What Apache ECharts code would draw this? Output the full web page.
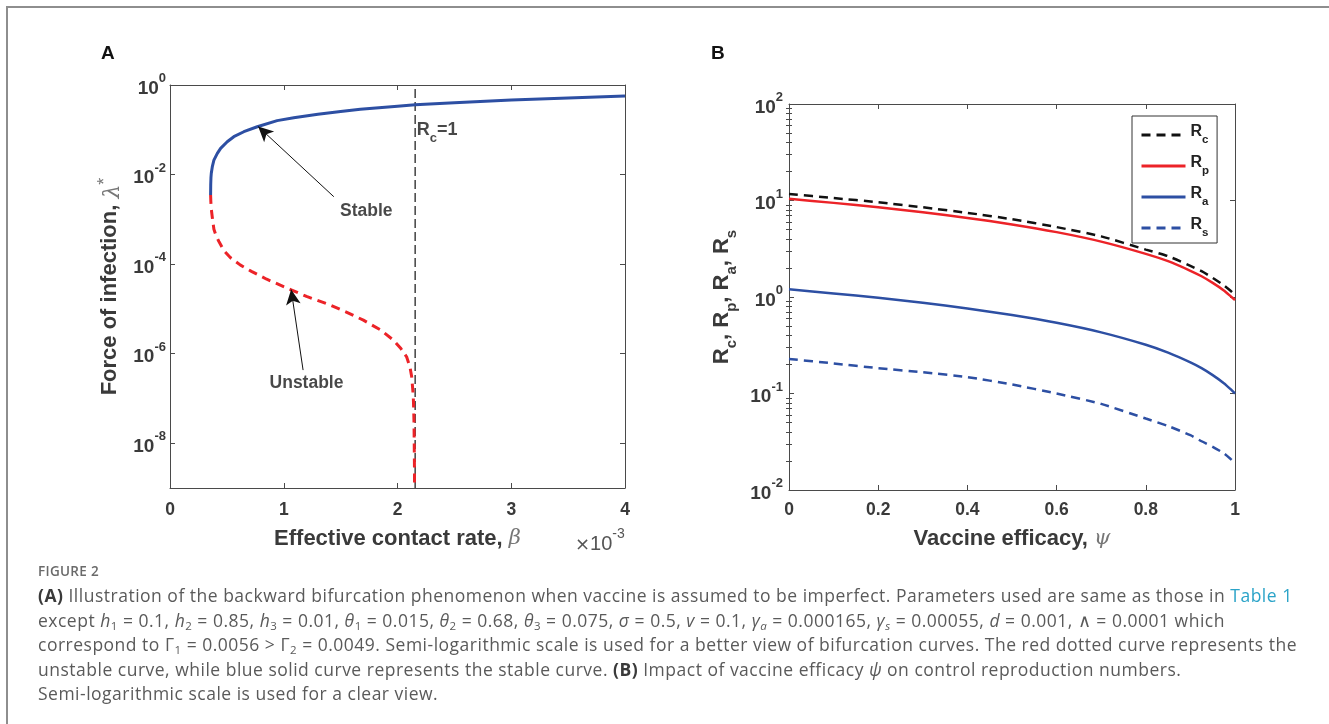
<!DOCTYPE html>
<html>
<head>
<meta charset="utf-8">
<title>Figure 2</title>
<script src="https://cdn.jsdelivr.net/npm/echarts@6/dist/echarts.min.js"></script>
<style>
  html, body { margin: 0; padding: 0; background: #fff; }
  body { width: 1329px; height: 724px; position: relative; overflow: hidden; }
  #chart { position: absolute; left: 0; top: 0; width: 1329px; height: 560px; }
  .frame { position: absolute; left: 6px; top: 6px; width: 1360px; height: 760px;
           border-top: 2px solid #8e8e8e; border-left: 2px solid #8e8e8e; }
  .fig { position: absolute; left: 38px; top: 562px; font: 600 13.5px "Open Sans", sans-serif;
         color: #6a6a6a; letter-spacing: 0.3px; }
  .cap { position: absolute; left: 38px; top: 583px; font: 400 17.5px/24.5px "Open Sans", sans-serif;
         color: #5a5a5a; letter-spacing: 0.5px; white-space: nowrap; }
  .cap b { color: #3a3a3a; font-weight: 700; }
  .cap .lnk { color: #2aa3c8; }
  .cap i { font-style: italic; }
  .cap sub { font-size: 11.5px; line-height: 0; vertical-align: -3px; }
</style>
</head>
<body>
<div id="chart"></div>
<div class="frame"></div>
<div class="fig">FIGURE 2</div>
<div class="cap">
  <div><b>(A)</b> Illustration of the backward bifurcation phenomenon when vaccine is assumed to be imperfect. Parameters used are same as those in <span class="lnk">Table 1</span></div>
  <div>except <i>h</i><sub>1</sub> = 0.1, <i>h</i><sub>2</sub> = 0.85, <i>h</i><sub>3</sub> = 0.01, <i>θ</i><sub>1</sub> = 0.015, <i>θ</i><sub>2</sub> = 0.68, <i>θ</i><sub>3</sub> = 0.075, <i>σ</i> = 0.5, <i>v</i> = 0.1, <i>γ</i><sub><i>a</i></sub> = 0.000165, <i>γ</i><sub><i>s</i></sub> = 0.00055, <i>d</i> = 0.001, ∧ = 0.0001 which</div>
  <div>correspond to Γ<sub>1</sub> = 0.0056 &gt; Γ<sub>2</sub> = 0.0049. Semi-logarithmic scale is used for a better view of bifurcation curves. The red dotted curve represents the</div>
  <div>unstable curve, while blue solid curve represents the stable curve. <b>(B)</b> Impact of vaccine efficacy <i>ψ</i> on control reproduction numbers.</div>
  <div>Semi-logarithmic scale is used for a clear view.</div>
</div>
<script>
// ---------- Panel A: bifurcation diagram (β in units of 10^-3) ----------
const betaStable = [0.357, 0.358, 0.360, 0.363, 0.372, 0.386, 0.416, 0.445, 0.503, 0.561, 0.649, 0.767,
                    0.942, 1.088, 1.30, 1.50, 1.673, 2.00, 2.155, 2.50, 3.00, 3.50, 4.00];
const lambdaStable = [0.0035, 0.0060, 0.0085, 0.0107, 0.0150, 0.0210, 0.0297, 0.0385, 0.054, 0.070, 0.0905, 0.117,
                      0.160, 0.186, 0.222, 0.255, 0.288, 0.335, 0.360, 0.400, 0.460, 0.515, 0.570];

const betaUnstable = [0.357, 0.359, 0.363, 0.372, 0.386, 0.405, 0.43, 0.474, 0.53, 0.62, 0.72, 0.85,
                      1.06, 1.20, 1.38, 1.55, 1.70, 1.85, 1.965, 2.03, 2.08, 2.11, 2.125, 2.135,
                      2.14, 2.145, 2.147, 2.149, 2.15];
const lambdaUnstable = [3.5e-3, 2.5e-3, 1.7e-3, 1.1e-3, 6.0e-4, 4.3e-4, 3.2e-4, 2.0e-4, 1.4e-4, 9.5e-5, 6.8e-5, 4.6e-5,
                        2.7e-5, 1.9e-5, 1.3e-5, 8.5e-6, 5.6e-6, 3.4e-6, 2.0e-6, 1.3e-6, 8.5e-7, 5.0e-7, 3.0e-7, 1.5e-7,
                        9e-8, 3e-8, 1e-8, 3e-9, 1e-9];

const betaThreshold = 2.155;          // R_c = 1
const lambdaRange = [1e-9, 1];
const betaTicks = [0, 1, 2, 3, 4];
const lambdaTicks = [1e-8, 1e-6, 1e-4, 1e-2, 1];

// annotation anchors [beta, lambda]
const stableText = [1.725, 1.5e-3];
const stableArrow = [[1.44, 3.2e-3], [0.775, 0.118]];
const unstableText = [1.20, 2.2e-7];
const unstableArrow = [[1.17, 4.3e-7], [1.065, 2.7e-5]];
const thresholdText = [2.17, 0.085];

// ---------- Panel B: reproduction numbers vs vaccine efficacy ----------
const psi = [0, 0.1, 0.2, 0.3, 0.4, 0.5, 0.6, 0.7, 0.8, 0.85, 0.9, 0.925, 0.95, 0.975, 0.99, 1];
const Rc = [11.7, 10.6, 9.6, 8.5, 7.45, 6.4, 5.3, 4.25, 3.1, 2.65, 2.1, 1.85, 1.58, 1.32, 1.16, 1.05];
const Rp = [10.4, 9.45, 8.5, 7.55, 6.6, 5.65, 4.7, 3.75, 2.8, 2.35, 1.87, 1.64, 1.40, 1.17, 1.02, 0.93];
const Ra = [1.20, 1.09, 0.98, 0.87, 0.76, 0.65, 0.54, 0.43, 0.32, 0.265, 0.21, 0.183, 0.155, 0.128, 0.111, 0.100];
const Rs = [0.228, 0.205, 0.183, 0.166, 0.148, 0.124, 0.100, 0.078, 0.055, 0.046, 0.037, 0.032, 0.028, 0.024, 0.021, 0.019];

const rRange = [0.01, 100];
const psiTicks = [0, 0.2, 0.4, 0.6, 0.8, 1];
const rTicks = [0.01, 0.1, 1, 10, 100];
const rMinorTicks = [0.02, 0.03, 0.04, 0.05, 0.06, 0.07, 0.08, 0.09,
                     0.2, 0.3, 0.4, 0.5, 0.6, 0.7, 0.8, 0.9,
                     2, 3, 4, 5, 6, 7, 8, 9,
                     20, 30, 40, 50, 60, 70, 80, 90];

// ---------- styling ----------
const FONT = '"Liberation Sans", Arial, Helvetica, sans-serif';
const AXIS_COLOR = '#4a4a4a';
const LABEL_COLOR = '#3a3a3a';
const BLUE = '#2D4FA3';
const RED = '#EC2328';

const zip = (xs, ys) => xs.map((x, i) => [x, ys[i]]);

const powRich = {
  b: { fontFamily: FONT, fontWeight: 'bold', fontSize: 19, color: LABEL_COLOR, lineHeight: 26, verticalAlign: 'bottom' },
  s: { fontFamily: FONT, fontWeight: 'bold', fontSize: 13, color: LABEL_COLOR, lineHeight: 11, verticalAlign: 'top' }
};
const powLabel = v => '{b|10}{s|' + Math.round(Math.log10(v)) + '}';

function frameAxis(extra) {
  return Object.assign({
    axisLine: { show: true, onZero: false, lineStyle: { color: AXIS_COLOR, width: 1 } },
    axisTick: { show: true, inside: true, length: 5, lineStyle: { color: AXIS_COLOR, width: 1 } },
    splitLine: { show: false },
    minorTick: { show: false },
    minorSplitLine: { show: false }
  }, extra);
}

const tickText = { fontFamily: FONT, fontWeight: 'bold', fontSize: 17.5, color: LABEL_COLOR };

const nameStyle = (extraRich) => ({
  fontFamily: FONT, fontWeight: 'bold', fontSize: 22, color: LABEL_COLOR,
  rich: extraRich
});
const greekRich = {
  g: { fontFamily: '"DejaVu Serif", serif', fontStyle: 'italic', fontWeight: 'normal', fontSize: 21, color: '#777' }
};

const option = {
  animation: false,
  backgroundColor: '#fff',
  grid: [
    { left: 170, top: 85, width: 455, height: 403 },
    { left: 789, top: 104, width: 446, height: 386 }
  ],
  xAxis: [
    frameAxis({
      gridIndex: 0, type: 'value', position: 'bottom', min: 0, max: 4, interval: 1,
      axisLabel: Object.assign({ show: true, margin: 13, customValues: betaTicks }, tickText),
      axisTick: { show: true, inside: true, length: 5, lineStyle: { color: AXIS_COLOR }, customValues: betaTicks },
      name: 'Effective contact rate, {g|β}', nameLocation: 'middle', nameGap: 40,
      nameTextStyle: nameStyle(greekRich)
    }),
    frameAxis({
      gridIndex: 0, type: 'value', position: 'top', min: 0, max: 4, interval: 1,
      axisLabel: { show: false },
      axisTick: { show: true, inside: true, length: 5, lineStyle: { color: AXIS_COLOR }, customValues: betaTicks }
    }),
    frameAxis({
      gridIndex: 1, type: 'value', position: 'bottom', min: 0, max: 1, interval: 0.2,
      axisLabel: Object.assign({ show: true, margin: 11, customValues: psiTicks }, tickText),
      axisTick: { show: true, inside: true, length: 5, lineStyle: { color: AXIS_COLOR }, customValues: psiTicks },
      name: 'Vaccine efficacy, {g|ψ}', nameLocation: 'middle', nameGap: 38,
      nameTextStyle: nameStyle(greekRich)
    }),
    frameAxis({
      gridIndex: 1, type: 'value', position: 'top', min: 0, max: 1, interval: 0.2,
      axisLabel: { show: false },
      axisTick: { show: true, inside: true, length: 5, lineStyle: { color: AXIS_COLOR }, customValues: psiTicks }
    })
  ],
  yAxis: [
    frameAxis({
      gridIndex: 0, type: 'log', logBase: 10, position: 'left', min: lambdaRange[0], max: lambdaRange[1],
      axisLabel: { show: true, margin: 4, customValues: lambdaTicks, formatter: powLabel, rich: powRich },
      axisTick: { show: true, inside: true, length: 5, lineStyle: { color: AXIS_COLOR }, customValues: lambdaTicks },
      name: 'Force of infection, {l|λ}{a|*}', nameLocation: 'middle', nameGap: 46,
      nameTextStyle: nameStyle({
        l: { fontFamily: '"DejaVu Serif", serif', fontStyle: 'italic', fontWeight: 'normal', fontSize: 22, color: '#777', lineHeight: 28, verticalAlign: 'bottom' },
        a: { fontFamily: FONT, fontWeight: 'normal', fontSize: 18, color: '#777', lineHeight: 13, verticalAlign: 'top' }
      })
    }),
    frameAxis({
      gridIndex: 0, type: 'log', logBase: 10, position: 'right', min: lambdaRange[0], max: lambdaRange[1],
      axisLabel: { show: false },
      axisTick: { show: true, inside: true, length: 5, lineStyle: { color: AXIS_COLOR }, customValues: lambdaTicks }
    }),
    frameAxis({
      gridIndex: 1, type: 'log', logBase: 10, position: 'left', min: rRange[0], max: rRange[1],
      axisLabel: { show: true, margin: 6, customValues: rTicks, formatter: powLabel, rich: powRich },
      axisTick: { show: true, inside: true, length: 5, lineStyle: { color: AXIS_COLOR }, customValues: rTicks },
      name: '{r|R}{s|c}{r|, R}{s|p}{r|, R}{s|a}{r|, R}{s|s}', nameLocation: 'middle', nameGap: 50,
      nameTextStyle: nameStyle({
        r: { fontFamily: FONT, fontWeight: 'bold', fontSize: 22, color: LABEL_COLOR, lineHeight: 28, verticalAlign: 'top' },
        s: { fontFamily: FONT, fontWeight: 'bold', fontSize: 15, color: LABEL_COLOR, lineHeight: 12, verticalAlign: 'bottom' }
      })
    }),
    frameAxis({
      gridIndex: 1, type: 'log', logBase: 10, position: 'right', min: rRange[0], max: rRange[1],
      axisLabel: { show: false },
      axisTick: { show: true, inside: true, length: 5, lineStyle: { color: AXIS_COLOR }, customValues: rTicks }
    }),
    frameAxis({
      gridIndex: 1, type: 'log', logBase: 10, position: 'left', offset: 0, min: rRange[0], max: rRange[1],
      axisLine: { show: false },
      axisLabel: { show: false },
      axisTick: { show: true, inside: true, length: 3, lineStyle: { color: AXIS_COLOR }, customValues: rMinorTicks }
    }),
    frameAxis({
      gridIndex: 1, type: 'log', logBase: 10, position: 'right', offset: 0, min: rRange[0], max: rRange[1],
      axisLine: { show: false },
      axisLabel: { show: false },
      axisTick: { show: true, inside: true, length: 3, lineStyle: { color: AXIS_COLOR }, customValues: rMinorTicks }
    })
  ],
  legend: {
    data: ['Rc', 'Rp', 'Ra', 'Rs'],
    orient: 'vertical', left: 1132, top: 116,
    padding: [8, 8, 4, 8], itemGap: 9, itemWidth: 44, itemHeight: 22,
    borderColor: '#333', borderWidth: 1, backgroundColor: '#fff',
    selectedMode: false,
    itemStyle: { opacity: 0 },
    lineStyle: { width: 3 },
    formatter: name => '{r|R}{s|' + name.slice(1) + '}',
    textStyle: {
      rich: {
        r: { fontFamily: FONT, fontWeight: 'bold', fontSize: 16, color: '#222', lineHeight: 22, verticalAlign: 'top' },
        s: { fontFamily: FONT, fontWeight: 'bold', fontSize: 11.5, color: '#222', lineHeight: 8, verticalAlign: 'bottom' }
      }
    }
  },
  graphic: [
    { type: 'text', left: 101, top: 44, style: { text: 'A', font: 'bold 19px ' + FONT, fill: '#111' } },
    { type: 'text', left: 711, top: 44, style: { text: 'B', font: 'bold 19px ' + FONT, fill: '#111' } },
    { type: 'text', left: 575, top: 527, style: {
        text: '{m|×}{n|10}{s|-3}',
        rich: {
          m: { fontFamily: '"DejaVu Sans", sans-serif', fontSize: 18, fill: '#555', lineHeight: 27, verticalAlign: 'bottom' },
          n: { fontFamily: FONT, fontSize: 20, fill: '#555', lineHeight: 27, verticalAlign: 'bottom' },
          s: { fontFamily: FONT, fontSize: 14, fill: '#555', lineHeight: 12, verticalAlign: 'top' }
        }
    } }
  ],
  series: [
    {
      name: 'threshold', type: 'line', xAxisIndex: 0, yAxisIndex: 0,
      data: [[betaThreshold, lambdaRange[0]], [betaThreshold, lambdaRange[1]]],
      symbol: 'none', silent: true,
      lineStyle: { color: '#111', width: 1.2, type: [9, 4] }
    },
    {
      name: 'stable', type: 'line', xAxisIndex: 0, yAxisIndex: 0,
      data: zip(betaStable, lambdaStable), symbol: 'none', silent: true, smooth: false,
      lineStyle: { color: BLUE, width: 3, join: 'round' }
    },
    {
      name: 'unstable', type: 'line', xAxisIndex: 0, yAxisIndex: 0,
      data: zip(betaUnstable, lambdaUnstable), symbol: 'none', silent: true, smooth: false,
      lineStyle: { color: RED, width: 3, type: [9, 6], join: 'round' }
    },
    {
      name: 'notes', type: 'scatter', xAxisIndex: 0, yAxisIndex: 0, symbolSize: 0, silent: true,
      data: [
        { value: stableText, label: { show: true, position: 'inside', formatter: 'Stable' } },
        { value: unstableText, label: { show: true, position: 'inside', formatter: 'Unstable' } },
        { value: thresholdText, label: { show: true, position: 'right', distance: 0, formatter: '{r|R}{s|c}{r|=1}' } }
      ],
      label: {
        fontFamily: FONT, fontWeight: 'bold', fontSize: 17.5, color: '#1a1a1a',
        textBorderWidth: 0, textBorderColor: 'transparent',
        rich: {
          r: { fontFamily: FONT, fontWeight: 'bold', fontSize: 18, color: '#1a1a1a', lineHeight: 24, verticalAlign: 'top' },
          s: { fontFamily: FONT, fontWeight: 'bold', fontSize: 13, color: '#1a1a1a', lineHeight: 8, verticalAlign: 'bottom' }
        }
      },
      markLine: {
        silent: true, animation: false,
        symbol: ['none', 'arrow'],
        label: { show: false },
        lineStyle: { color: '#111', width: 1, type: 'solid' },
        itemStyle: { color: '#111' },
        emphasis: { disabled: true },
        data: [
          [{ coord: stableArrow[0], symbol: 'none' }, { coord: stableArrow[1], symbol: 'arrow', symbolSize: [11, 15] }],
          [{ coord: unstableArrow[0], symbol: 'none' }, { coord: unstableArrow[1], symbol: 'arrow', symbolSize: [11, 15] }]
        ]
      }
    },
    {
      name: 'Rc', type: 'line', xAxisIndex: 2, yAxisIndex: 2, data: zip(psi, Rc),
      symbol: 'none', silent: true, smooth: 0.2, z: 4,
      itemStyle: { color: '#111' },
      lineStyle: { color: '#111', width: 2.5, type: [9, 6] }
    },
    {
      name: 'Rp', type: 'line', xAxisIndex: 2, yAxisIndex: 2, data: zip(psi, Rp),
      symbol: 'none', silent: true, smooth: 0.2, z: 3,
      itemStyle: { color: RED },
      lineStyle: { color: RED, width: 2.5 }
    },
    {
      name: 'Ra', type: 'line', xAxisIndex: 2, yAxisIndex: 2, data: zip(psi, Ra),
      symbol: 'none', silent: true, smooth: 0.2,
      itemStyle: { color: BLUE },
      lineStyle: { color: BLUE, width: 2.5 }
    },
    {
      name: 'Rs', type: 'line', xAxisIndex: 2, yAxisIndex: 2, data: zip(psi, Rs),
      symbol: 'none', silent: true, smooth: 0.2,
      itemStyle: { color: BLUE },
      lineStyle: { color: BLUE, width: 2.5, type: [9, 6] }
    }
  ]
};

const chart = echarts.init(document.getElementById('chart'), null, { renderer: 'canvas' });
chart.setOption(option);
</script>
</body>
</html>
